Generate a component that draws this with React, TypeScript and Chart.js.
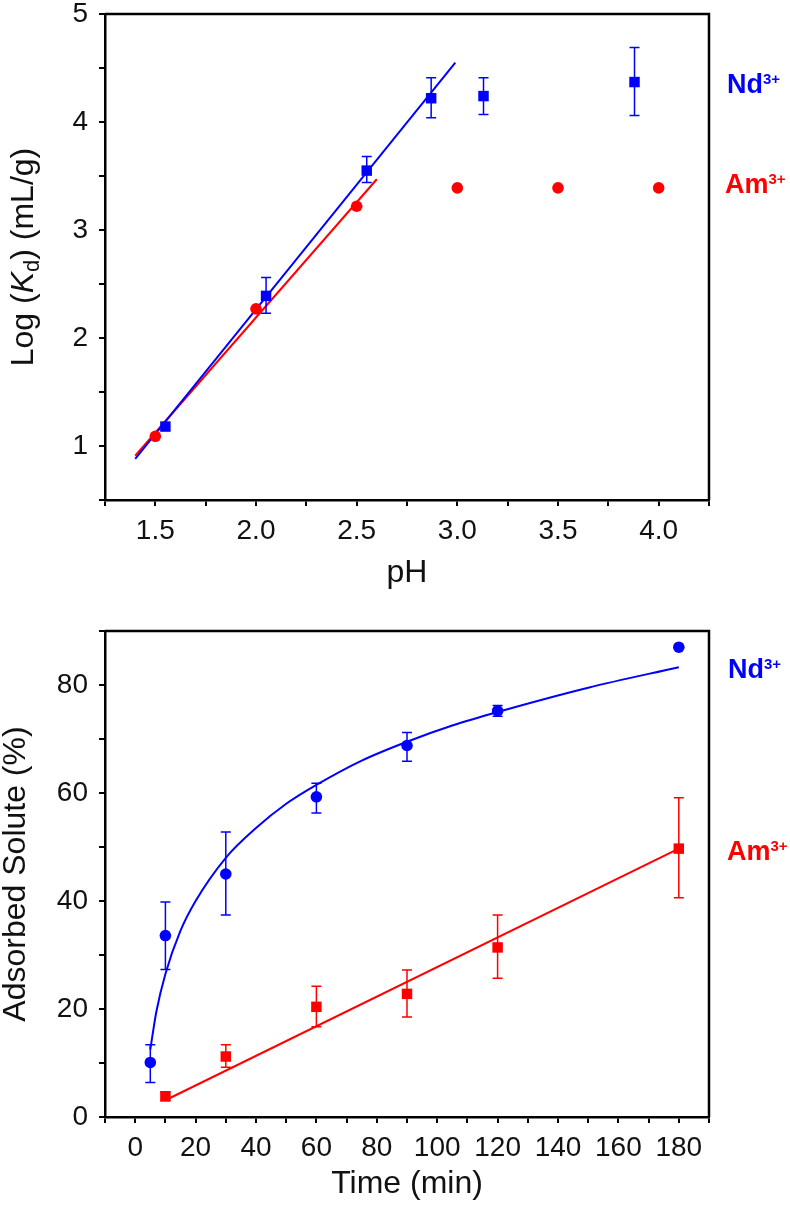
import React, { useEffect, useRef } from 'react';
import { Chart, registerables } from 'chart.js';
Chart.register(...registerables);

const FONT = "'Liberation Sans', Arial, sans-serif";
const BLUE = '#0000FF';
const RED = '#FF0000';
const INK = '#111111';

// ---------- Top panel: Log(Kd) vs pH ----------
const ndPH = [1.55, 2.05, 2.55, 2.87, 3.13, 3.88];
const ndLogKd = [1.18, 2.39, 3.55, 4.22, 4.24, 4.37];
const ndLogKdLow = [null, 2.23, 3.44, 4.04, 4.07, 4.06];
const ndLogKdHigh = [null, 2.56, 3.68, 4.41, 4.41, 4.69];
const amPH = [1.5, 2.0, 2.5, 3.0, 3.5, 4.0];
const amLogKd = [1.09, 2.27, 3.22, 3.39, 3.39, 3.39];
const ndFitPH = [1.4, 2.99];
const ndFitLogKd = [0.88, 4.55];
const amFitPH = [1.4, 2.6];
const amFitLogKd = [0.91, 3.47];

// ---------- Bottom panel: Adsorbed solute vs time ----------
const ndTime = [5, 10, 30, 60, 90, 120, 180];
const ndAdsorbed = [10.1, 33.6, 45.0, 59.3, 68.8, 75.2, 87.0];
const ndAdsLow = [6.4, 27.3, 37.4, 56.3, 65.9, 74.2, null];
const ndAdsHigh = [13.4, 39.8, 52.8, 61.8, 71.2, 76.2, null];
const amTime = [10, 30, 60, 90, 120, 180];
const amAdsorbed = [3.85, 11.2, 20.4, 22.8, 31.4, 49.7];
const amAdsLow = [3.0, 9.2, 16.7, 18.5, 25.7, 40.6];
const amAdsHigh = [4.6, 13.4, 24.2, 27.2, 37.4, 59.1];
const ndFitTime = [5, 7, 10, 15, 20, 30, 40, 50, 60, 75, 90, 105, 120, 150, 180];
const ndFitAds = [12.5, 19.5, 26.5, 34.5, 40, 48, 53.5, 58, 61.5, 66, 69.5, 72.5, 75, 79.5, 83.3];
const amFitTime = [10, 180];
const amFitAds = [3.1, 49.7];

const xy = (xs: number[], ys: (number | null)[]) => xs.map((x, i) => ({ x, y: ys[i] as number }));

const errorBars = {
  id: 'errorBars',
  afterDatasetsDraw(chart: any) {
    const { ctx } = chart;
    const xs = chart.scales.x;
    const ys = chart.scales.y;
    chart.data.datasets.forEach((ds: any) => {
      if (!ds.errLow) return;
      ctx.save();
      ctx.strokeStyle = ds.errColor;
      ctx.lineWidth = 1.5;
      ds.data.forEach((p: any, j: number) => {
        const lo = ds.errLow[j];
        const hi = ds.errHigh[j];
        if (lo == null || hi == null) return;
        const x = xs.getPixelForValue(p.x);
        const y1 = ys.getPixelForValue(lo);
        const y2 = ys.getPixelForValue(hi);
        ctx.beginPath();
        ctx.moveTo(x, y1);
        ctx.lineTo(x, y2);
        ctx.moveTo(x - 5, y1);
        ctx.lineTo(x + 5, y1);
        ctx.moveTo(x - 5, y2);
        ctx.lineTo(x + 5, y2);
        ctx.stroke();
      });
      ctx.restore();
    });
  },
};

const frame = {
  id: 'frame',
  afterDraw(chart: any) {
    const { ctx, chartArea: a } = chart;
    ctx.save();
    ctx.strokeStyle = '#000';
    ctx.lineWidth = 2.5;
    ctx.beginPath();
    ctx.moveTo(a.left, a.top);
    ctx.lineTo(a.right, a.top);
    ctx.lineTo(a.right, a.bottom);
    ctx.stroke();
    ctx.restore();
  },
};

type Part = { text: string; font: string; dy?: number };
function drawParts(ctx: CanvasRenderingContext2D, parts: Part[], x: number, y: number, align: 'left' | 'center') {
  let total = 0;
  parts.forEach((p) => {
    ctx.font = p.font;
    total += ctx.measureText(p.text).width;
  });
  let cx = align === 'center' ? x - total / 2 : x;
  ctx.textBaseline = 'alphabetic';
  ctx.textAlign = 'left';
  parts.forEach((p) => {
    ctx.font = p.font;
    ctx.fillText(p.text, cx, y + (p.dy || 0));
    cx += ctx.measureText(p.text).width;
  });
}

function ionLabel(ctx: CanvasRenderingContext2D, sym: string, color: string, x: number, y: number) {
  ctx.fillStyle = color;
  drawParts(ctx, [
    { text: sym, font: `bold 27px ${FONT}` },
    { text: '3+', font: `bold 15px ${FONT}`, dy: -9 },
  ], x, y, 'left');
}

const tickFont = { family: FONT, size: 28 };
const TITLE = `32px ${FONT}`;

function axisBase(min: number, max: number, step: number, cb: (v: number) => string, horizontal: boolean, size: number) {
  return {
    type: 'linear',
    min,
    max,
    ticks: {
      stepSize: step,
      autoSkip: false,
      maxRotation: 0,
      font: tickFont,
      color: INK,
      padding: horizontal ? 8 : 11,
      callback: (v: any) => cb(Number(v)),
    },
    grid: { drawOnChartArea: false, drawTicks: true, tickLength: 6, color: '#000', lineWidth: 2 },
    border: { display: true, color: '#000', width: 2.5 },
    afterFit: (s: any) => {
      if (horizontal) {
        s.height = size;
        s.paddingLeft = 0;
        s.paddingRight = 0;
      } else {
        s.width = size;
        s.paddingTop = 0;
        s.paddingBottom = 0;
      }
    },
  };
}

const near = (a: number, b: number) => Math.abs(a - b) < 1e-6;

function topConfig(): any {
  const decor = {
    id: 'decorTop',
    afterDraw(chart: any) {
      const { ctx, chartArea: a } = chart;
      ctx.save();
      ctx.fillStyle = INK;
      drawParts(ctx, [{ text: 'pH', font: TITLE }], (a.left + a.right) / 2, 582, 'center');
      ctx.translate(33, (a.top + a.bottom) / 2);
      ctx.rotate(-Math.PI / 2);
      drawParts(ctx, [
        { text: 'Log (', font: TITLE },
        { text: 'K', font: `italic ${TITLE}` },
        { text: 'd', font: `22px ${FONT}`, dy: 6 },
        { text: ') (mL/g)', font: TITLE },
      ], 0, 0, 'center');
      ctx.restore();
      ctx.save();
      ionLabel(ctx, 'Nd', BLUE, 727, 93);
      ionLabel(ctx, 'Am', RED, 725, 193);
      ctx.restore();
    },
  };
  return {
    type: 'scatter',
    data: {
      datasets: [
        {
          label: 'Nd3+', data: xy(ndPH, ndLogKd), pointStyle: 'rect', pointRadius: 7.4,
          backgroundColor: BLUE, borderWidth: 0, pointBorderWidth: 0,
          errLow: ndLogKdLow, errHigh: ndLogKdHigh, errColor: BLUE,
        },
        {
          label: 'Am3+', data: xy(amPH, amLogKd), pointStyle: 'circle', pointRadius: 5.8,
          backgroundColor: RED, borderWidth: 0, pointBorderWidth: 0,
        },
        {
          label: 'Nd fit', data: xy(ndFitPH, ndFitLogKd), showLine: true, pointRadius: 0,
          borderColor: BLUE, borderWidth: 2,
        },
        {
          label: 'Am fit', data: xy(amFitPH, amFitLogKd), showLine: true, pointRadius: 0,
          borderColor: RED, borderWidth: 2,
        },
      ],
    },
    options: {
      animation: false,
      responsive: false,
      devicePixelRatio: 1,
      layout: { padding: { top: 14, right: 81, bottom: 0, left: 0 } },
      plugins: { legend: { display: false }, tooltip: { enabled: false } },
      scales: {
        x: axisBase(1.25, 4.25, 0.25, (v) => (near(v * 2, Math.round(v * 2)) ? v.toFixed(1) : ''), true, 100),
        y: axisBase(0.5, 5, 0.5, (v) => (near(v, Math.round(v)) ? String(Math.round(v)) : ''), false, 105),
      },
    },
    plugins: [errorBars, frame, decor],
  };
}

function bottomConfig(): any {
  const decor = {
    id: 'decorBottom',
    afterDraw(chart: any) {
      const { ctx, chartArea: a } = chart;
      ctx.save();
      ctx.fillStyle = INK;
      drawParts(ctx, [{ text: 'Time (min)', font: TITLE }], (a.left + a.right) / 2, 593, 'center');
      ctx.translate(25, (a.top + a.bottom) / 2);
      ctx.rotate(-Math.PI / 2);
      drawParts(ctx, [{ text: 'Adsorbed Solute (%)', font: TITLE }], 0, 0, 'center');
      ctx.restore();
      ctx.save();
      ionLabel(ctx, 'Nd', BLUE, 728, 78);
      ionLabel(ctx, 'Am', RED, 727, 260);
      ctx.restore();
    },
  };
  return {
    type: 'scatter',
    data: {
      datasets: [
        {
          label: 'Nd3+', data: xy(ndTime, ndAdsorbed), pointStyle: 'circle', pointRadius: 5.8,
          backgroundColor: BLUE, borderWidth: 0, pointBorderWidth: 0,
          errLow: ndAdsLow, errHigh: ndAdsHigh, errColor: BLUE,
        },
        {
          label: 'Am3+', data: xy(amTime, amAdsorbed), pointStyle: 'rect', pointRadius: 7.4,
          backgroundColor: RED, borderWidth: 0, pointBorderWidth: 0,
          errLow: amAdsLow, errHigh: amAdsHigh, errColor: RED,
        },
        {
          label: 'Nd fit', data: xy(ndFitTime, ndFitAds), showLine: true, pointRadius: 0,
          borderColor: BLUE, borderWidth: 2, cubicInterpolationMode: 'monotone',
        },
        {
          label: 'Am fit', data: xy(amFitTime, amFitAds), showLine: true, pointRadius: 0,
          borderColor: RED, borderWidth: 2,
        },
      ],
    },
    options: {
      animation: false,
      responsive: false,
      devicePixelRatio: 1,
      layout: { padding: { top: 31, right: 81, bottom: 0, left: 0 } },
      plugins: { legend: { display: false }, tooltip: { enabled: false } },
      scales: {
        x: axisBase(-10, 190, 10, (v) => (near(v % 20, 0) && v >= 0 && v <= 180 ? String(Math.round(v)) : ''), true, 93),
        y: axisBase(0, 90, 10, (v) => (near(v % 20, 0) ? String(Math.round(v)) : ''), false, 105),
      },
    },
    plugins: [errorBars, frame, decor],
  };
}

function ChartCanvas({ make, top, height }: { make: () => any; top: number; height: number }) {
  const ref = useRef<HTMLCanvasElement | null>(null);
  useEffect(() => {
    const chart = new Chart(ref.current as HTMLCanvasElement, make());
    return () => chart.destroy();
  }, []);
  return (
    <canvas
      ref={ref}
      width={790}
      height={height}
      style={{ position: 'absolute', left: 0, top, width: 790, height }}
    />
  );
}

export default function App() {
  return (
    <div style={{ position: 'absolute', left: 0, top: 0, width: 790, height: 1210, background: '#fff' }}>
      <ChartCanvas make={topConfig} top={0} height={600} />
      <ChartCanvas make={bottomConfig} top={600} height={610} />
    </div>
  );
}
